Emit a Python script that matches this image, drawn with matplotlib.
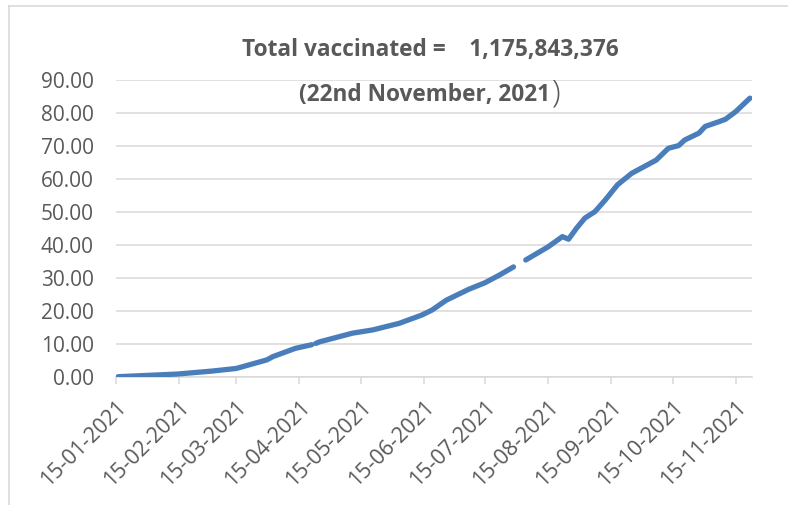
import numpy as np
import matplotlib
matplotlib.use("Agg")
import matplotlib.pyplot as plt
import matplotlib.dates as mdates
from matplotlib.lines import Line2D

plt.rcParams['font.family'] = ['Open Sans', 'DejaVu Sans']

# data (NaN = missing day -> gap in line)
dates = ['2021-01-16', '2021-02-14', '2021-03-03', '2021-03-15', '2021-03-30',
         '2021-04-02', '2021-04-13', '2021-04-21', '2021-04-22', '2021-04-23',
         '2021-04-25', '2021-05-11', '2021-05-21', '2021-06-03', '2021-06-14',
         '2021-06-19', '2021-06-26', '2021-07-07', '2021-07-15', '2021-07-22',
         '2021-07-29', '2021-08-01', '2021-08-04', '2021-08-15', '2021-08-22',
         '2021-08-25', '2021-08-29', '2021-09-02', '2021-09-07', '2021-09-12',
         '2021-09-18', '2021-09-25', '2021-10-07', '2021-10-13', '2021-10-18',
         '2021-10-21', '2021-10-28', '2021-10-31', '2021-11-07', '2021-11-10',
         '2021-11-15', '2021-11-22']
values = [0.0, 0.8, 1.7, 2.5, 5.1,
          6.1, 8.6, 9.7, np.nan, 10.1,
          10.6, 13.2, 14.2, 16.2, 18.7,
          20.2, 23.2, 26.5, 28.5, 30.8,
          33.3, np.nan, 35.4, 39.4, 42.5,
          41.7, 45.1, 48.1, 50.1, 53.6,
          58.2, 61.7, 65.7, 69.3, 70.1,
          71.8, 73.9, 75.9, 77.4, 78.1,
          80.4, 84.5]
tick_dates = ['2021-01-15', '2021-02-15', '2021-03-15', '2021-04-15', '2021-05-15',
              '2021-06-15', '2021-07-15', '2021-08-15', '2021-09-15', '2021-10-15',
              '2021-11-15']
title_1 = 'Total vaccinated =    1,175,843,376'
title_2 = '(22nd November, 2021'

x = np.array(dates, dtype='datetime64[D]')
xt = np.array(tick_dates, dtype='datetime64[D]')

txt = '#595959'
grid = '#d9d9d9'

fig = plt.figure(figsize=(7.88, 5.05), dpi=100)
ax = fig.add_axes([116 / 788, 1 - 376.7 / 505, (752 - 116) / 788, (376.7 - 80) / 505])

ax.plot(x, values, color='#4a7ebb', lw=3.8, solid_capstyle='round',
        solid_joinstyle='round', zorder=3)

ax.set_ylim(0, 90)
ax.set_yticks(np.arange(0, 91, 10))
ax.yaxis.set_major_formatter(matplotlib.ticker.FormatStrFormatter('%.2f'))
ax.set_xlim(np.datetime64('2021-01-15'), np.datetime64('2021-11-23'))
ax.set_xticks(xt)
ax.xaxis.set_major_formatter(mdates.DateFormatter('%d-%m-%Y'))

ax.grid(axis='y', color=grid, lw=1.1)
ax.set_axisbelow(True)
for s in ['top', 'right', 'left']:
    ax.spines[s].set_visible(False)
ax.spines['bottom'].set_color(grid)
ax.spines['bottom'].set_linewidth(1.1)

ax.tick_params(axis='y', length=0, pad=16, labelsize=15, labelcolor=txt)
ax.tick_params(axis='x', length=5, width=1.1, color=grid, pad=9,
               labelsize=15.5, labelcolor=txt)
for lab in ax.get_xticklabels():
    lab.set_rotation(45)
    lab.set_ha('right')
    lab.set_va('top')
    lab.set_rotation_mode('anchor')

fig.text(430 / 788, 1 - 50 / 505, title_1, ha='center', va='center',
         fontsize=16.3, fontweight='bold', color=txt)
fig.text(550 / 788, 1 - 95 / 505, title_2, ha='right', va='center',
         fontsize=16.3, fontweight='bold', color=txt)
fig.text(551 / 788, 1 - 94 / 505, ')', ha='left', va='center',
         fontsize=23, fontweight='light', color=txt)

# outer chart border (cropped screenshot)
fig.add_artist(Line2D([9 / 788, 9 / 788], [0, 1 - 5.7 / 505], color=grid, lw=1.2))
fig.add_artist(Line2D([9 / 788, 1], [1 - 5.7 / 505, 1 - 5.7 / 505], color=grid, lw=1.2))

fig.savefig('out.png', dpi=100)
